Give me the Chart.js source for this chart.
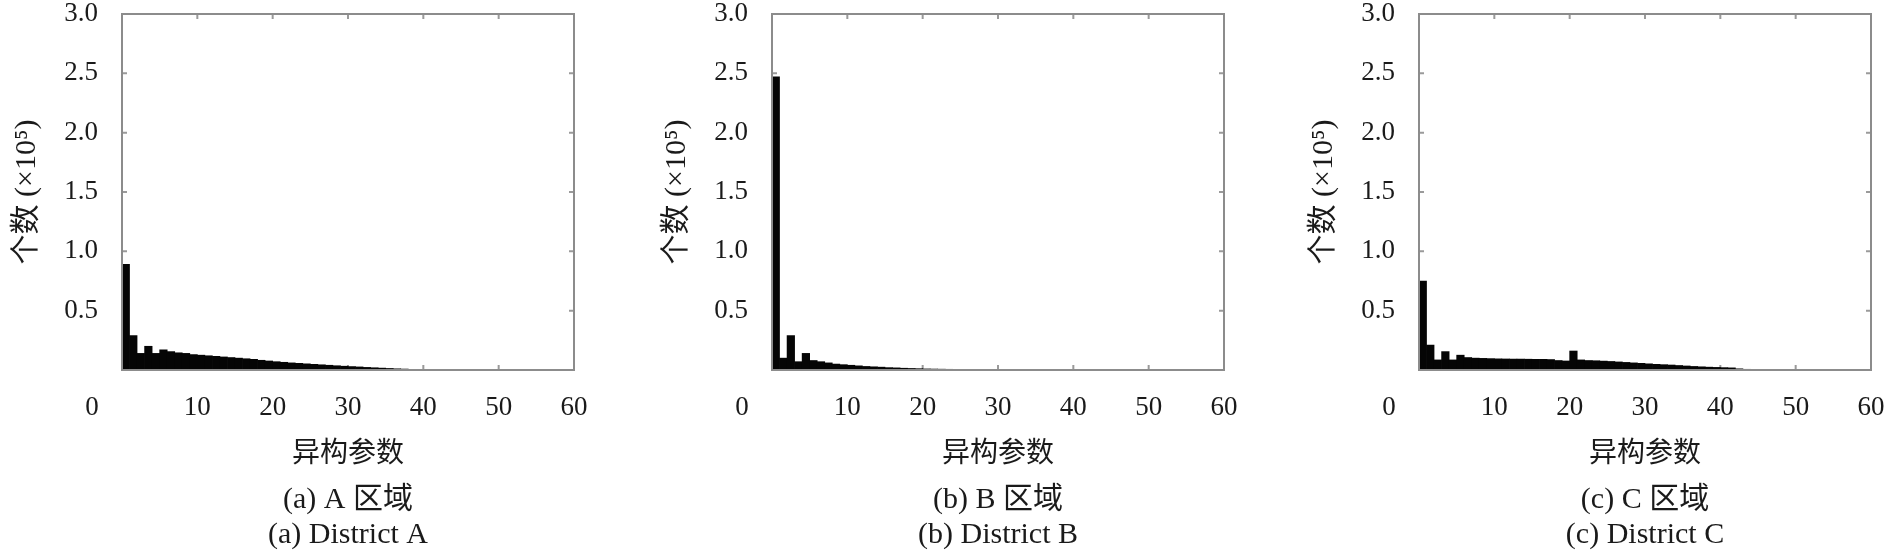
<!DOCTYPE html>
<html>
<head>
<meta charset="utf-8">
<script src="https://cdn.jsdelivr.net/npm/chart.js@4.4.0/dist/chart.umd.min.js"></script>
<style>
  html, body { margin: 0; padding: 0; background: #fff; }
  #wrap { position: relative; width: 1890px; height: 553px; overflow: hidden; }
  canvas { position: absolute; top: 0; }
</style>
</head>
<body>
<div id="wrap">
  <canvas id="chartA" width="593" height="553" style="left:0px"></canvas>
  <canvas id="chartB" width="593" height="553" style="left:650px"></canvas>
  <canvas id="chartC" width="593" height="553" style="left:1297px"></canvas>
</div>
<script>
// histogram bins (left edge of each unit-wide bin)
const binStarts = [
  0, 1, 2, 3, 4, 5, 6, 7, 8, 9, 10, 11, 12, 13, 14, 15, 16, 17, 18, 19,
  20, 21, 22, 23, 24, 25, 26, 27, 28, 29, 30, 31, 32, 33, 34, 35, 36, 37, 38, 39,
  40, 41, 42, 43, 44, 45, 46, 47, 48, 49, 50, 51, 52, 53, 54, 55, 56, 57, 58, 59
];

// counts in units of 10^5
const countsA = [
  0.89, 0.29, 0.14, 0.20, 0.14, 0.17, 0.155, 0.145, 0.14, 0.13,
  0.125, 0.12, 0.115, 0.11, 0.105, 0.10, 0.095, 0.09, 0.082, 0.076,
  0.07, 0.065, 0.06, 0.056, 0.052, 0.048, 0.044, 0.04, 0.036, 0.032,
  0.029, 0.026, 0.022, 0.019, 0.016, 0.013, 0.01, 0.008, 0.005, 0.003,
  0.002, 0.001, 0, 0, 0, 0, 0, 0, 0, 0,
  0, 0, 0, 0, 0, 0, 0, 0, 0, 0
];
const countsB = [
  2.47, 0.10, 0.29, 0.07, 0.14, 0.08, 0.07, 0.06, 0.05, 0.045,
  0.04, 0.035, 0.03, 0.027, 0.024, 0.02, 0.018, 0.015, 0.013, 0.011,
  0.009, 0.008, 0.007, 0.006, 0.005, 0.004, 0.004, 0.003, 0.003, 0.002,
  0.002, 0.002, 0.001, 0, 0, 0, 0, 0, 0, 0,
  0, 0, 0, 0, 0, 0, 0, 0, 0, 0,
  0, 0, 0, 0, 0, 0, 0, 0, 0, 0
];
const countsC = [
  0.75, 0.21, 0.085, 0.155, 0.085, 0.125, 0.105, 0.10, 0.098, 0.096,
  0.094, 0.093, 0.092, 0.092, 0.091, 0.09, 0.09, 0.088, 0.08, 0.076,
  0.16, 0.085, 0.08, 0.078, 0.075, 0.072, 0.068, 0.064, 0.06, 0.056,
  0.052, 0.048, 0.045, 0.042, 0.038, 0.034, 0.03, 0.027, 0.024, 0.022,
  0.02, 0.018, 0.01, 0.006, 0.003, 0, 0, 0, 0, 0,
  0, 0, 0, 0, 0, 0, 0, 0, 0, 0
];

const xTicks = [10, 20, 30, 40, 50, 60];
const yTicks = [0.5, 1.0, 1.5, 2.0, 2.5, 3.0];
const originLabel = "0";

const xTitle = "异构参数";
const yTitle = "个数 (×10⁵)";
const captionsA = ["(a) A 区域", "(a) District A"];
const captionsB = ["(b) B 区域", "(b) District B"];
const captionsC = ["(c) C 区域", "(c) District C"];

const FAMILY = "'Liberation Serif', 'Noto Sans CJK SC', serif";
const TEXT = "#1a1a1a";
const X_TICK_PAD = 22;

// box around the plot, inward tick marks and the corner "0"
const framePlugin = {
  id: "frame",
  beforeDatasetsDraw(chart) {
    const { ctx, chartArea: a, scales: { x, y } } = chart;
    ctx.save();
    ctx.strokeStyle = "#9a9a9a";
    ctx.lineWidth = 2;
    ctx.beginPath();
    xTicks.slice(0, -1).forEach((v) => {
      const px = x.getPixelForValue(v);
      ctx.moveTo(px, a.top);
      ctx.lineTo(px, a.top + 5);
      ctx.moveTo(px, a.bottom);
      ctx.lineTo(px, a.bottom - 5);
    });
    yTicks.slice(0, -1).forEach((v) => {
      const py = y.getPixelForValue(v);
      ctx.moveTo(a.left, py);
      ctx.lineTo(a.left + 5, py);
      ctx.moveTo(a.right, py);
      ctx.lineTo(a.right - 5, py);
    });
    ctx.stroke();
    ctx.restore();
  },
  afterDatasetsDraw(chart) {
    const { ctx, chartArea: a } = chart;
    ctx.save();
    ctx.strokeStyle = "#8c8c8c";
    ctx.lineWidth = 2;
    ctx.strokeRect(a.left, a.top, a.right - a.left, a.bottom - a.top);
    ctx.fillStyle = TEXT;
    ctx.font = "27px " + FAMILY;
    ctx.textAlign = "center";
    ctx.textBaseline = "middle";
    ctx.fillText(originLabel, a.left - 30, a.bottom + X_TICK_PAD + 16.2);
    ctx.restore();
  },
};

function buildPanel(canvasId, counts, captions) {
  return new Chart(document.getElementById(canvasId), {
    type: "bar",
    data: {
      datasets: [
        {
          data: counts.map((v, i) => ({ x: binStarts[i] + 0.5, y: v })),
          backgroundColor: "#050505",
          borderWidth: 0,
          barPercentage: 1,
          categoryPercentage: 1,
        },
      ],
    },
    options: {
      responsive: false,
      animation: false,
      layout: { padding: { top: 14, right: 19, left: 0, bottom: 0 } },
      scales: {
        x: {
          type: "linear",
          min: 0,
          max: 60,
          offset: false,
          afterBuildTicks: (s) => {
            s.ticks = xTicks.map((v) => ({ value: v }));
          },
          afterFit: (s) => {
            s.height = 101;
            s.paddingLeft = 0;
            s.paddingRight = 0;
          },
          grid: { display: false, drawTicks: false },
          border: { display: false },
          ticks: {
            padding: X_TICK_PAD,
            color: TEXT,
            maxRotation: 0,
            autoSkip: false,
            font: { family: FAMILY, size: 27, lineHeight: 1.2 },
          },
          title: {
            display: true,
            text: xTitle,
            color: TEXT,
            font: { family: FAMILY, size: 28, lineHeight: 1.2 },
            padding: { top: 0, bottom: 0 },
          },
        },
        y: {
          min: 0,
          max: 3,
          afterBuildTicks: (s) => {
            s.ticks = yTicks.map((v) => ({ value: v }));
          },
          afterFit: (s) => {
            s.width = 122;
            s.paddingTop = 0;
            s.paddingBottom = 0;
          },
          grid: { display: false, drawTicks: false },
          border: { display: false },
          ticks: {
            padding: 24,
            color: TEXT,
            font: { family: FAMILY, size: 27, lineHeight: 1 },
            callback: (v) => Number(v).toFixed(1),
          },
          title: {
            display: true,
            text: yTitle,
            color: TEXT,
            font: { family: FAMILY, size: 30, lineHeight: 1.2 },
            padding: { top: 9, bottom: 0 },
          },
        },
      },
      plugins: {
        legend: { display: false },
        tooltip: { enabled: false },
        title: {
          display: true,
          position: "bottom",
          fullSize: false,
          text: captions,
          color: TEXT,
          font: { family: FAMILY, size: 30, weight: "normal", lineHeight: "35px" },
          padding: { top: 12, bottom: 0 },
        },
      },
    },
    plugins: [framePlugin],
  });
}

buildPanel("chartA", countsA, captionsA);
buildPanel("chartB", countsB, captionsB);
buildPanel("chartC", countsC, captionsC);
</script>
</body>
</html>
